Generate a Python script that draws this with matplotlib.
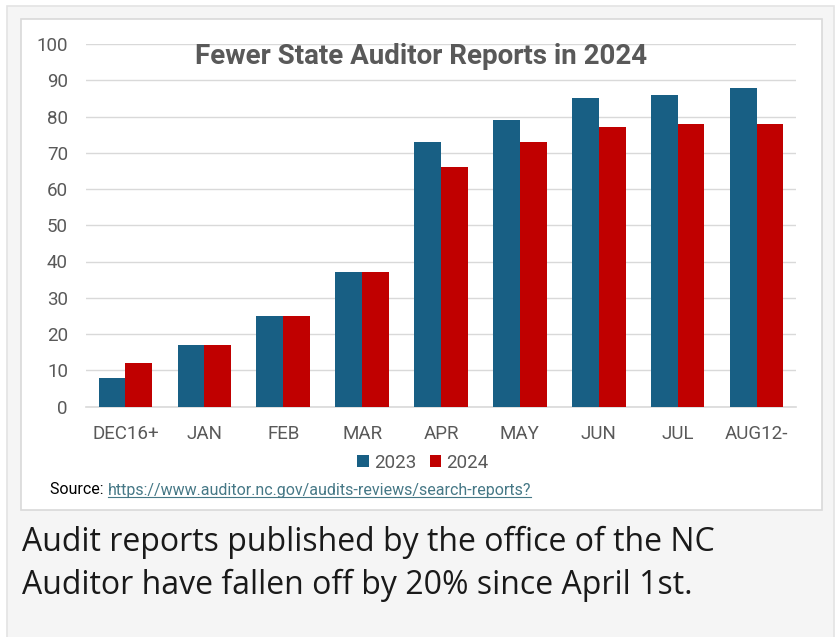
import matplotlib
matplotlib.use('Agg')
import matplotlib.pyplot as plt
from matplotlib.patches import Rectangle
from matplotlib.lines import Line2D
import numpy as np

# dati
months = ['DEC16+', 'JAN', 'FEB', 'MAR', 'APR', 'MAY', 'JUN', 'JUL', 'AUG12-']
reports_2023 = [8, 17, 25, 37, 73, 79, 85, 86, 88]
reports_2024 = [12, 17, 25, 37, 66, 73, 77, 78, 78]
series_labels = ['2023', '2024']
title = 'Fewer State Auditor Reports in 2024'
source_url = 'https://www.auditor.nc.gov/audits-reviews/search-reports?'
caption = ('Audit reports published by the office of the NC\n'
           'Auditor have fallen off by 20% since April 1st.')

W, H = 838, 637
fig = plt.figure(figsize=(W / 100, H / 100), dpi=100)
fig.patch.set_facecolor('white')

def px(x, y, w, h):
    return (x / W, 1 - (y + h) / H, w / W, h / H)

# sfondo grigio e pannello bianco
x0, y0, w0, h0 = px(7, 6, 827, 640)
fig.patches.append(Rectangle((x0, y0), w0, h0, transform=fig.transFigure,
                             facecolor='#f5f5f5', edgecolor='#e3e3e3', lw=1.2,
                             zorder=-10))
x1, y1, w1, h1 = px(21, 19, 801, 491)
fig.patches.append(Rectangle((x1, y1), w1, h1, transform=fig.transFigure,
                             facecolor='white', edgecolor='#d9d9d9', lw=1.2,
                             zorder=-9))

ax = fig.add_axes([86 / W, 1 - 406.5 / H, 710 / W, 362.5 / H])
ax.set_facecolor('none')

x = np.arange(len(months))
bw = 0.34
ax.bar(x - bw / 2, reports_2023, bw, color='#185f84', label=series_labels[0], zorder=3)
ax.bar(x + bw / 2, reports_2024, bw, color='#c00000', label=series_labels[1], zorder=3)

ax.set_xlim(-0.5, len(months) - 0.5)
ax.set_ylim(0, 100)
ax.set_yticks(range(0, 101, 10))
ax.set_xticks(x)
ax.set_xticklabels(months)
ax.grid(axis='y', color='#d9d9d9', lw=1, zorder=0)
for s in ['top', 'right', 'left']:
    ax.spines[s].set_visible(False)
ax.spines['bottom'].set_color('#d9d9d9')
ax.spines['bottom'].set_linewidth(1.2)
ax.tick_params(length=0, labelsize=13.5, labelcolor='#595959')
ax.tick_params(axis='y', pad=13)
ax.tick_params(axis='x', pad=13)
for lab in ax.get_xticklabels() + ax.get_yticklabels():
    lab.set_fontfamily('Roboto')

fig.text(421 / W, 1 - 56 / H, title, ha='center', va='center',
         fontsize=20, fontweight='bold', color='#595959', family='Roboto')

leg = ax.legend(loc='center', bbox_to_anchor=(423 / W, 1 - 463 / H),
                bbox_transform=fig.transFigure, ncol=2, frameon=False,
                handlelength=0.6, handleheight=0.6, handletextpad=0.3,
                columnspacing=0.7, prop={'family': 'Roboto', 'size': 13.5})
for t in leg.get_texts():
    t.set_color('#595959')

t1 = fig.text(50 / W, 1 - 490 / H, 'Source: ', ha='left', va='center',
              fontsize=11.5, color='black', family='Roboto')
fig.canvas.draw()
r = fig.canvas.get_renderer()
bb = t1.get_window_extent(r)
t2 = fig.text(bb.x1 / W, 1 - 490 / H, source_url, ha='left', va='center',
              fontsize=11.5, color='#467886', family='Roboto')
bb2 = t2.get_window_extent(r)
fig.lines.append(Line2D([bb2.x0 / W, bb2.x1 / W], [(bb2.y0 + 1) / H] * 2,
                        transform=fig.transFigure, color='#467886', lw=0.8))

fig.text(22 / W, 1 - 564 / H, caption, ha='left', va='center',
         fontsize=23, color='#1a1a1a', family='Open Sans', linespacing=1.4)

fig.savefig('out.png', dpi=100)
